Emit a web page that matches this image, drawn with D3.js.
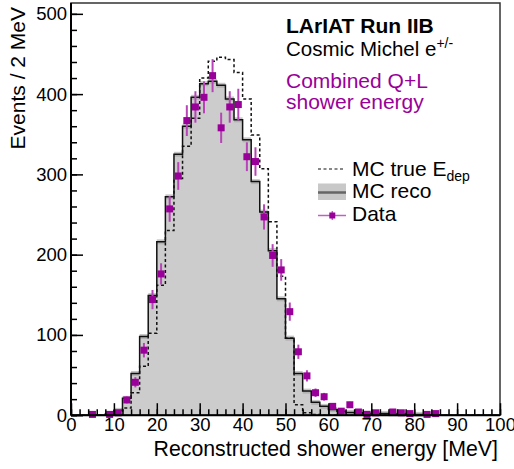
<!DOCTYPE html>
<html lang="en">
<head>
  <meta charset="UTF-8">
  <title>LArIAT Run IIB - Michel shower energy</title>
  <script src="https://d3js.org/d3.v7.min.js"></script>
  <style>
    body { margin: 0; background: #fff; }
    svg { font-family: "Liberation Sans", Arial, Helvetica, sans-serif; }
    .tick text { font-size: 18.5px; fill: #000; }
  </style>
</head>
<body>
<div id="chart"></div>

<script>
  // bins of 2 MeV, low edges 0..98
  const binLow = d3.range(0, 100, 2);

  // MC reco (solid, gray filled)
  const mcReco = [
    0, 0, 0, 0, 1.5, 6, 21, 52, 98, 149,
    216, 272, 325, 360, 396, 413, 416, 411, 394, 368,
    343, 291, 253, 205, 145, 96, 52, 30, 16, 11,
    7, 5, 3.5, 3, 2.5, 2, 2, 1.5, 1.5, 1,
    1, 0.5, 0, 0, 0, 0, 0, 0, 0, 0
  ];

  // MC true E_dep (dashed)
  const mcTrue = [
    0, 0, 0, 0, 0, 1, 9, 28, 61, 102,
    162, 230, 295, 335, 370, 420, 441, 446, 443, 427,
    394, 349, 307, 241, 173, 96, 13, 3, 1, 0,
    0, 0, 0, 0, 0, 0, 0, 0, 0, 0,
    0, 0, 0, 0, 0, 0, 0, 0, 0, 0
  ];

  // Data points (bin centre, counts)
  const dataE = [5, 9, 11, 13, 15, 17, 19, 21, 23, 25, 27, 29, 31, 33, 35, 37, 39, 41, 43, 45,
                 47, 49, 51, 53, 55, 57, 59, 61, 63, 65, 67, 69, 71, 75, 77, 79, 83, 85];
  const dataN = [1, 1, 3, 19, 41, 81, 144, 176, 257, 298, 367, 384, 396, 423, 358, 384, 387, 322, 316, 247,
                 199, 181, 129, 79, 49, 28, 23, 11, 5, 13, 4, 1, 3, 4, 3, 2, 1, 2];

  const xMajor = d3.range(0, 101, 10);
  const xMinor = d3.range(0, 101, 2);
  const yMajor = d3.range(0, 501, 100);
  const yMinor = d3.range(0, 511, 20);

  const width = 514, height = 469;
  const padL = 71, padR = 500, padT = 3, padB = 415.2;
  const purple = "#990099";

  const svg = d3.select("#chart").append("svg")
    .attr("width", width)
    .attr("height", height);

  const x = d3.scaleLinear().domain([0, 100]).range([padL, padR]);
  const y = d3.scaleLinear().domain([0, 513.5]).range([padB, padT]);

  const recoPts = binLow.map((e, i) => [e, mcReco[i]]).concat([[100, mcReco[mcReco.length - 1]]]);
  const truePts = binLow.map((e, i) => [e, mcTrue[i]]).concat([[100, mcTrue[mcTrue.length - 1]]]);

  // gray fill
  svg.append("path")
    .datum(recoPts)
    .attr("fill", "#cccccc")
    .attr("d", d3.area().curve(d3.curveStepAfter)
      .x(d => x(d[0])).y0(y(0)).y1(d => y(d[1])));

  // MC error band
  svg.append("g")
    .selectAll("rect")
    .data(binLow.map((e, i) => ({e, v: mcReco[i]})).filter(d => d.v > 0))
    .join("rect")
      .attr("x", d => x(d.e))
      .attr("width", d => x(d.e + 2) - x(d.e))
      .attr("y", d => y(d.v) - 2.5)
      .attr("height", 5)
      .attr("fill", "#a0a0a0")
      .attr("opacity", 0.6);

  // MC reco line
  svg.append("path")
    .datum(recoPts)
    .attr("fill", "none")
    .attr("stroke", "#111")
    .attr("stroke-width", 1.5)
    .attr("d", d3.line().curve(d3.curveStepAfter).x(d => x(d[0])).y(d => y(d[1])));

  // MC true dashed
  svg.append("path")
    .datum(truePts)
    .attr("fill", "none")
    .attr("stroke", "#111")
    .attr("stroke-width", 1.5)
    .attr("stroke-dasharray", "3,2.5")
    .attr("d", d3.line().curve(d3.curveStepAfter).x(d => x(d[0])).y(d => y(d[1])));

  // data
  const pts = dataE.map((e, i) => ({e, n: dataN[i]}));
  svg.append("g")
    .selectAll("line")
    .data(pts)
    .join("line")
      .attr("x1", d => x(d.e)).attr("x2", d => x(d.e))
      .attr("y1", d => y(d.n + Math.sqrt(d.n)))
      .attr("y2", d => y(Math.max(0, d.n - Math.sqrt(d.n))))
      .attr("stroke", "#b845b8")
      .attr("stroke-width", 2);

  svg.append("g")
    .selectAll("rect")
    .data(pts)
    .join("rect")
      .attr("x", d => x(d.e) - 3.5)
      .attr("y", d => y(d.n) - 3.5)
      .attr("width", 7)
      .attr("height", 7)
      .attr("fill", purple);

  // frame
  svg.append("rect")
    .attr("x", padL).attr("y", padT)
    .attr("width", padR - padL).attr("height", padB - padT)
    .attr("fill", "none")
    .attr("stroke", "#333")
    .attr("stroke-width", 1.5);

  // axes
  const gx = svg.append("g").attr("transform", `translate(0,${padB})`);
  gx.call(d3.axisBottom(x).tickValues(xMinor).tickSize(-6).tickFormat(""));
  gx.select(".domain").remove();
  const gx2 = svg.append("g").attr("transform", `translate(0,${padB})`);
  gx2.call(d3.axisBottom(x).tickValues(xMajor).tickSize(-12).tickPadding(3).tickFormat(d3.format("d")));
  gx2.select(".domain").remove();

  const gy = svg.append("g").attr("transform", `translate(${padL},0)`);
  gy.call(d3.axisLeft(y).tickValues(yMinor).tickSize(-6).tickFormat(""));
  gy.select(".domain").remove();
  const gy2 = svg.append("g").attr("transform", `translate(${padL},0)`);
  gy2.call(d3.axisLeft(y).tickValues(yMajor).tickSize(-12).tickPadding(4).tickFormat(d3.format("d")));
  gy2.select(".domain").remove();
  svg.selectAll(".tick line").attr("stroke", "#000").attr("stroke-width", 1.5);
  svg.selectAll(".tick text").attr("font-family", null).attr("font-size", null);

  svg.append("line").attr("x1", padL).attr("x2", padR).attr("y1", padB).attr("y2", padB)
    .attr("stroke", "#000").attr("stroke-width", 2);
  svg.append("line").attr("x1", padL).attr("x2", padL).attr("y1", padT).attr("y2", padB)
    .attr("stroke", "#000").attr("stroke-width", 2);

  // axis titles
  svg.append("text")
    .attr("x", 498).attr("y", 456)
    .attr("text-anchor", "end")
    .attr("font-size", 21.3)
    .text("Reconstructed shower energy [MeV]");

  svg.append("text")
    .attr("transform", "translate(25,7) rotate(-90)")
    .attr("text-anchor", "end")
    .attr("font-size", 21)
    .text("Events / 2 MeV");

  // labels
  svg.append("text")
    .attr("x", 286).attr("y", 33)
    .attr("font-size", 21).attr("font-weight", "bold")
    .text("LArIAT Run IIB");

  const t2 = svg.append("text")
    .attr("x", 286).attr("y", 56)
    .attr("font-size", 20.5);
  t2.append("tspan").text("Cosmic Michel e");
  t2.append("tspan").attr("font-size", 14).attr("dy", -8).text("+/-");

  svg.append("text")
    .attr("x", 286).attr("y", 88)
    .attr("font-size", 21).attr("fill", purple)
    .text("Combined Q+L");
  svg.append("text")
    .attr("x", 286).attr("y", 109)
    .attr("font-size", 21).attr("fill", purple)
    .text("shower energy");

  // legend
  const lx0 = 318, lx1 = 346, ltx = 352;
  svg.append("line")
    .attr("x1", lx0).attr("x2", lx1 - 3).attr("y1", 169).attr("y2", 169)
    .attr("stroke", "#111").attr("stroke-width", 1.2).attr("stroke-dasharray", "3,2.5");
  const l1 = svg.append("text").attr("x", ltx).attr("y", 176).attr("font-size", 21);
  l1.append("tspan").text("MC true E");
  l1.append("tspan").attr("font-size", 14).attr("dy", 5).text("dep");

  svg.append("rect")
    .attr("x", lx0).attr("y", 183.5).attr("width", lx1 - lx0).attr("height", 16.5)
    .attr("fill", "#c8c8c8");
  svg.append("line")
    .attr("x1", lx0).attr("x2", lx1).attr("y1", 192.5).attr("y2", 192.5)
    .attr("stroke", "#666").attr("stroke-width", 2.5);
  svg.append("text").attr("x", ltx).attr("y", 198).attr("font-size", 21).text("MC reco");

  svg.append("line")
    .attr("x1", lx0).attr("x2", lx1).attr("y1", 215.5).attr("y2", 215.5)
    .attr("stroke", "#c060c0").attr("stroke-width", 1.5);
  svg.append("line")
    .attr("x1", 332.3).attr("x2", 332.3).attr("y1", 211).attr("y2", 220)
    .attr("stroke", "#c060c0").attr("stroke-width", 1.5);
  svg.append("rect")
    .attr("x", 329.3).attr("y", 212.5).attr("width", 6).attr("height", 6)
    .attr("fill", purple);
  svg.append("text").attr("x", ltx).attr("y", 220.5).attr("font-size", 21).text("Data");
</script>
</body>
</html>
